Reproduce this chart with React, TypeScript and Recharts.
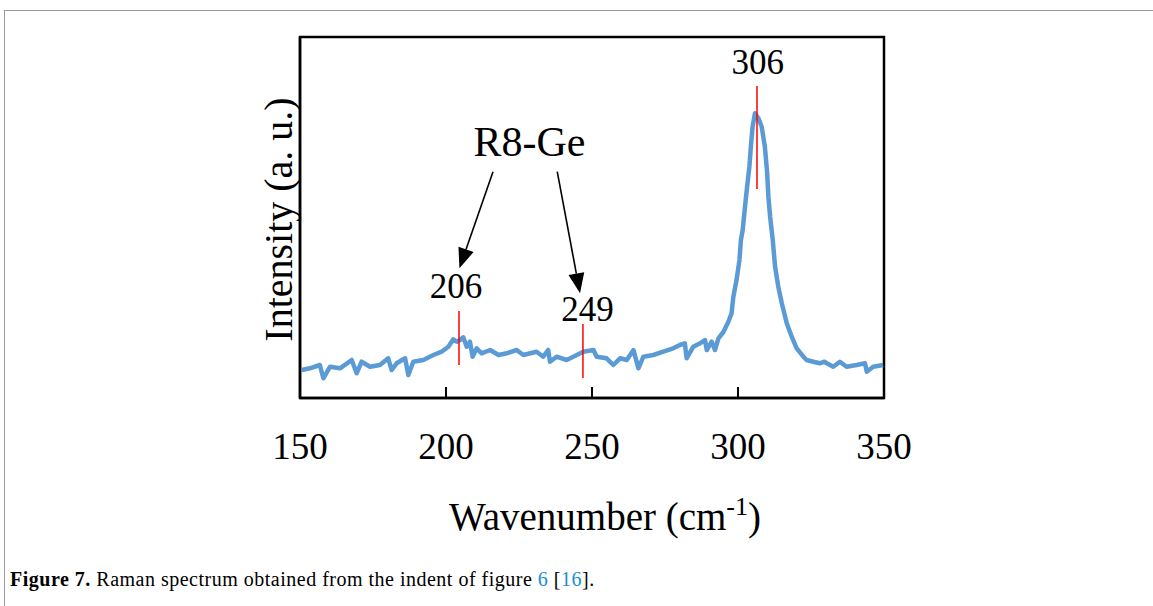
import { Label, Line, LineChart, ReferenceArea, ReferenceDot, ReferenceLine, XAxis, YAxis } from 'recharts'

const SERIF = '"Liberation Serif", "Times New Roman", serif'

// spectrum (intensity in arbitrary units, 0 = bottom of the frame)
const wavenumbers = [
  150.6, 153.4, 156.8, 158.0, 160.3, 163.7, 167.7, 169.4, 171.1, 174.0,
  177.4, 180.2, 181.4, 183.1, 186.0, 187.1, 188.8, 192.2, 195.7, 198.5,
  200.8, 202.5, 203.7, 204.8, 205.9, 207.1, 208.2, 209.1, 210.5, 212.2,
  215.1, 218.0, 220.8, 224.2, 226.5, 231.0, 233.3, 235.0, 235.6, 237.9,
  241.3, 244.8, 247.0, 250.5, 251.6, 255.0, 257.3, 259.6, 261.9, 264.2,
  265.9, 267.6, 271.0, 274.4, 277.8, 280.1, 281.8, 282.4, 284.7, 287.0,
  288.7, 289.3, 291.0, 292.1, 293.3, 295.0, 296.7, 297.8, 298.4, 299.5,
  300.5, 301.0, 301.6, 302.4, 303.0, 303.9, 304.5, 305.0, 305.8, 307.0,
  308.1, 309.2, 310.0, 310.4, 311.0, 311.9, 312.7, 313.8, 315.0, 316.7,
  318.4, 320.1, 322.4, 323.5, 325.8, 328.0, 329.6, 330.4, 332.6, 334.9,
  337.2, 340.6, 343.5, 344.1, 346.3, 349.7,
]
const intensities = [
  28, 29.7, 33, 19.7, 31.3, 29.7, 38, 24.7, 36.3, 31.3,
  33, 39.7, 28, 34.7, 39.7, 23, 36.3, 38, 43, 46.3,
  51.3, 58.7, 56.3, 58, 60.7, 51.3, 56.3, 41.3, 49.7, 44.7,
  48, 43, 44.7, 48, 43, 46.3, 41.3, 48, 36.3, 41.3,
  38, 43, 46.3, 48, 41.3, 39.7, 33, 39.7, 38, 48,
  29.7, 41.3, 43, 46.3, 49.7, 53, 54.7, 39.7, 51.3, 54.7,
  58, 48, 56.3, 48, 59.7, 66, 76.3, 84.7, 101, 118,
  138, 158, 168, 191.3, 208, 231.3, 254.7, 271.3, 284.7, 279.7,
  271.3, 251.3, 224.7, 201.3, 181.3, 158, 131.3, 111.3, 94.7, 74.7,
  61.3, 49.7, 41.3, 38, 36.3, 34.7, 36.3, 34.7, 31.3, 36.3,
  31.3, 33, 34.7, 26.3, 31.3, 33,
]

const xTicks = [150, 200, 250, 300, 350]
const xDomain = [150, 350]
const yDomain = [0, 361]

// peak markers
const peakLabels = ['206', '249', '306']
const peakLabelX = [203.4, 248.5, 306.8]
const peakLabelY = [99.7, 77, 324]
const peakLineX = [204.45, 246.9, 306.5]
const peakLineTop = [87, 74, 312]
const peakLineBottom = [33, 20, 209]

// group annotation + arrows
const groupLabel = 'R8-Ge'
const groupLabelX = 228.6
const groupLabelY = 242
const arrowFromX = [216.1, 238.1]
const arrowFromY = [226.3, 226.3]
const arrowToX = [204.6, 245.9]
const arrowToY = [129.7, 104.7]

const data = wavenumbers.map((w, i) => ({ w, intensity: intensities[i] }))

// tick lines point into the frame (tickSize < 0), labels sit well below the axis
function XTick(props: any) {
  const { x, y, payload } = props
  return (
    <text x={x} y={y + 61} textAnchor="middle" fontSize={37} fontFamily={SERIF} fill="#000">
      {payload.value}
    </text>
  )
}

function XTitle(props: any) {
  const vb = props.viewBox
  return (
    <text x={vb.x + vb.width / 2 + 13} y={vb.y + 132} textAnchor="middle" fontSize={39} fontFamily={SERIF} fill="#000">
      Wavenumber (cm
      <tspan fontSize={26} dy={-15}>-1</tspan>
      <tspan fontSize={39} dy={15}>)</tspan>
    </text>
  )
}

function YTitle(props: any) {
  const vb = props.viewBox
  const x = vb.x + vb.width - 8
  const y = vb.y + vb.height / 2 + 2
  return (
    <text x={x} y={y} transform={`rotate(-90, ${x}, ${y})`} textAnchor="middle" fontSize={40} fontFamily={SERIF} fill="#000">
      Intensity (a. u.)
    </text>
  )
}

function Arrow(props: any) {
  const { x1, y1, x2, y2 } = props
  const dx = x2 - x1
  const dy = y2 - y1
  const len = Math.sqrt(dx * dx + dy * dy)
  const ux = dx / len
  const uy = dy / len
  const head = 20
  const half = 8
  const bx = x2 - ux * head
  const by = y2 - uy * head
  return (
    <g>
      <line x1={x1} y1={y1} x2={bx} y2={by} stroke="#000" strokeWidth={1.6} />
      <polygon
        points={`${x2},${y2} ${bx - uy * half},${by + ux * half} ${bx + uy * half},${by - ux * half}`}
        fill="#000"
      />
    </g>
  )
}

function textShape(label: string, size: number) {
  return (p: any) => (
    <text x={p.cx} y={p.cy} textAnchor="middle" fontSize={size} fontFamily={SERIF} fill="#000">
      {label}
    </text>
  )
}

export default function App() {
  return (
    <div style={{ position: 'absolute', left: 0, top: 0, width: 1153, height: 606, background: '#fff', overflow: 'hidden' }}>
      <div
        style={{
          position: 'absolute',
          left: 4,
          top: 10,
          width: 1160,
          height: 620,
          borderTop: '1.5px solid #999',
          borderLeft: '1.5px solid #999',
        }}
      />
      <div style={{ position: 'absolute', left: 0, top: 0 }}>
        <LineChart width={1153} height={560} data={data} margin={{ top: 37, left: 256, right: 269, bottom: 12 }}>
          <XAxis
            dataKey="w"
            type="number"
            domain={xDomain}
            ticks={xTicks}
            height={150}
            tickSize={-11}
            tickMargin={11}
            tickLine={{ stroke: '#000', strokeWidth: 2 }}
            tick={<XTick />}
            axisLine={{ stroke: '#000', strokeWidth: 2.5 }}
          >
            <Label content={<XTitle />} />
          </XAxis>
          <YAxis
            type="number"
            domain={yDomain}
            width={44}
            tick={false}
            tickLine={false}
            axisLine={{ stroke: '#000', strokeWidth: 2.5 }}
          >
            <Label content={<YTitle />} />
          </YAxis>
          <ReferenceArea
            x1={xDomain[0]}
            x2={xDomain[1]}
            y1={yDomain[0]}
            y2={yDomain[1]}
            fill="none"
            stroke="#000"
            strokeWidth={2.5}
          />
          <Line
            dataKey="intensity"
            type="linear"
            stroke="#5b9bd5"
            strokeWidth={4.5}
            strokeLinejoin="round"
            dot={false}
            isAnimationActive={false}
          />
          {peakLineX.map((x, i) => (
            <ReferenceLine
              key={`pl-${i}`}
              segment={[
                { x, y: peakLineTop[i] },
                { x, y: peakLineBottom[i] },
              ]}
              stroke="#ff0000"
              strokeWidth={1.5}
            />
          ))}
          {arrowFromX.map((x, i) => (
            <ReferenceLine
              key={`ar-${i}`}
              segment={[
                { x, y: arrowFromY[i] },
                { x: arrowToX[i], y: arrowToY[i] },
              ]}
              shape={<Arrow />}
            />
          ))}
          {peakLabels.map((label, i) => (
            <ReferenceDot
              key={`lb-${i}`}
              x={peakLabelX[i]}
              y={peakLabelY[i]}
              r={0}
              shape={textShape(label, 35)}
            />
          ))}
          <ReferenceDot x={groupLabelX} y={groupLabelY} r={0} shape={textShape(groupLabel, 42)} />
        </LineChart>
      </div>
      <div
        style={{
          position: 'absolute',
          left: 10,
          top: 568,
          fontFamily: SERIF,
          fontSize: 20,
          letterSpacing: 0.5,
          color: '#000',
          whiteSpace: 'nowrap',
        }}
      >
        <b>Figure 7.</b> Raman spectrum obtained from the indent of figure <span style={{ color: '#1a8fd0' }}>6</span> [
        <span style={{ color: '#1a8fd0' }}>16</span>].
      </div>
    </div>
  )
}
